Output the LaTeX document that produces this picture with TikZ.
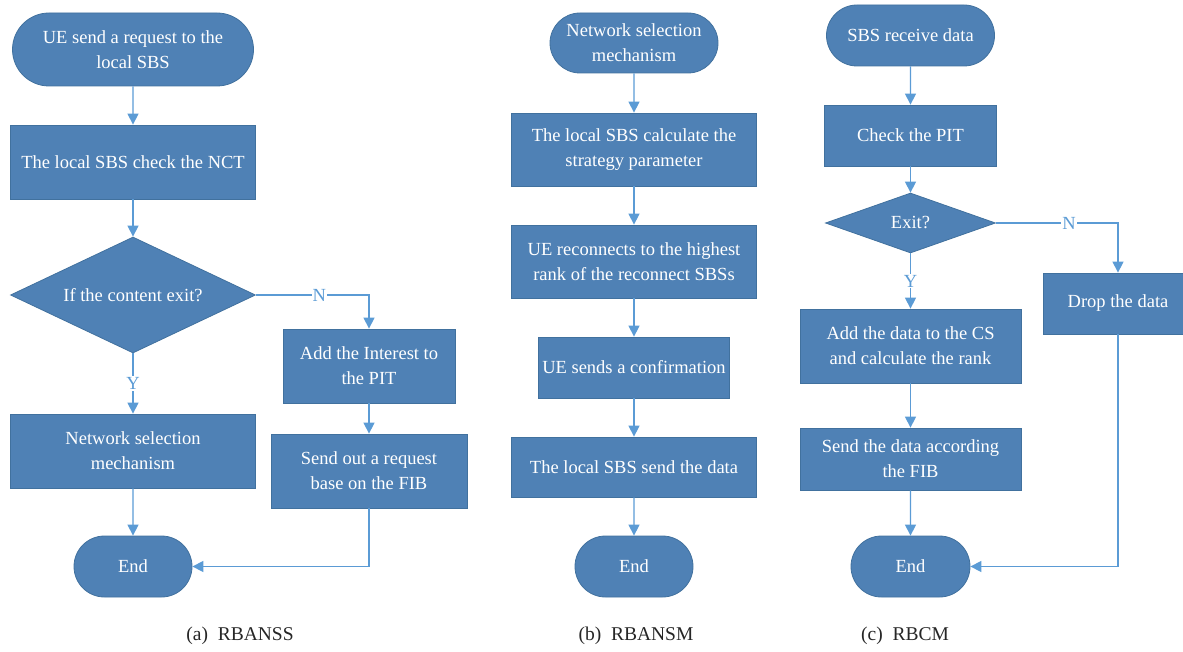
\documentclass[tikz,border=0pt]{standalone}
\usepackage{fontspec}
\setmainfont{Liberation Serif}
\usepackage{tikz}
\usetikzlibrary{shapes.geometric,shapes.misc,arrows.meta}

\definecolor{boxblue}{RGB}{79,129,181}
\definecolor{boxedge}{RGB}{65,113,158}
\definecolor{linkblue}{RGB}{91,155,213}

\begin{document}
\begin{tikzpicture}[x=1pt,y=1pt,yscale=-1,
  every node/.style={font=\fontsize{18.5}{25}\selectfont},
  proc/.style={rectangle,fill=boxblue,draw=boxedge,line width=0.8pt,text=white,align=center,inner sep=2pt},
  term/.style={rounded rectangle,fill=boxblue,draw=boxedge,line width=0.8pt,text=white,align=center,inner sep=2pt},
  dec/.style={diamond,fill=boxblue,draw=boxedge,line width=0.8pt,text=white,align=center,inner sep=0pt},
  link/.style={draw=linkblue,line width=1.4pt,-{Triangle[width=11pt,length=11pt]}},
  lbl/.style={fill=white,text=linkblue,inner sep=1pt},
  capt/.style={text=black!85,font=\fontsize{19.5}{24}\selectfont}]
\useasboundingbox (0,0) rectangle (1183,652);

% (a) RBANSS
\node[term,minimum width=245,minimum height=73] (startA) at (133,49.5) {UE send a request to the\\local SBS};
\node[proc,minimum width=245,minimum height=74] (nctA) at (133,162) {The local SBS check the NCT};
\node[dec,aspect=2.1,minimum width=245,minimum height=116] (decA) at (133,295) {If the content exit?};
\node[proc,minimum width=245,minimum height=74] (netA) at (133,451) {Network selection\\mechanism};
\node[term,minimum width=122,minimum height=61] (endA) at (133,566.5) {End};
\node[proc,minimum width=172,minimum height=74] (pitA) at (369,366) {Add the Interest to\\the PIT};
\node[proc,minimum width=196,minimum height=74] (fibA) at (369,471) {Send out a request\\base on the FIB};

\draw[link] (startA) -- (nctA);
\draw[link] (nctA) -- (decA);
\draw[link] (decA) -- node[lbl] {Y} (netA);
\draw[link] (netA) -- (endA);
\draw[link] (decA.east) -| node[lbl,pos=0.28] {N} (pitA.north);
\draw[link] (pitA) -- (fibA);
\draw[link] (fibA.south) |- (endA.east);

% (b) RBANSM
\node[term,minimum width=172,minimum height=60] (startB) at (634,43) {Network selection\\mechanism};
\node[proc,minimum width=245,minimum height=73] (calcB) at (634,149.5) {The local SBS calculate the\\strategy parameter};
\node[proc,minimum width=245,minimum height=73] (recoB) at (634,261.5) {UE reconnects to the highest\\rank of the reconnect SBSs};
\node[proc,minimum width=191,minimum height=61] (confB) at (634,367.5) {UE sends a confirmation};
\node[proc,minimum width=245,minimum height=60] (sendB) at (634,467) {The local SBS send the data};
\node[term,minimum width=122,minimum height=61] (endB) at (634,566.5) {End};

\draw[link] (startB) -- (calcB);
\draw[link] (calcB) -- (recoB);
\draw[link] (recoB) -- (confB);
\draw[link] (confB) -- (sendB);
\draw[link] (sendB) -- (endB);

% (c) RBCM
\node[term,minimum width=172,minimum height=61] (startC) at (910.5,35.5) {SBS receive data};
\node[proc,minimum width=172,minimum height=61] (pitC) at (910.5,135.5) {Check the PIT};
\node[dec,aspect=2.8,minimum width=170,minimum height=60] (decC) at (910.5,223) {Exit?};
\node[proc,minimum width=221,minimum height=74] (addC) at (910.5,346) {Add the data to the CS\\and calculate the rank};
\node[proc,minimum width=150,minimum height=61] (dropC) at (1118,303.5) {Drop the data};
\node[proc,minimum width=221,minimum height=62] (fibC) at (910.5,459) {Send the data according\\the FIB};
\node[term,minimum width=123,minimum height=61] (endC) at (910.5,566.5) {End};

\draw[link] (startC) -- (pitC);
\draw[link] (pitC) -- (decC);
\draw[link] (decC) -- node[lbl] {Y} (addC);
\draw[link] (decC.east) -| node[lbl,pos=0.3] {N} (dropC.north);
\draw[link] (addC) -- (fibC);
\draw[link] (fibC) -- (endC);
\draw[link] (dropC.south) |- (endC.east);

% captions
\node[capt] (captA) at (240,636) {(a)\enspace RBANSS};
\node[capt] (captB) at (636,636) {(b)\enspace RBANSM};
\node[capt] (captC) at (905,636) {(c)\enspace RBCM};

\end{tikzpicture}
\end{document}
